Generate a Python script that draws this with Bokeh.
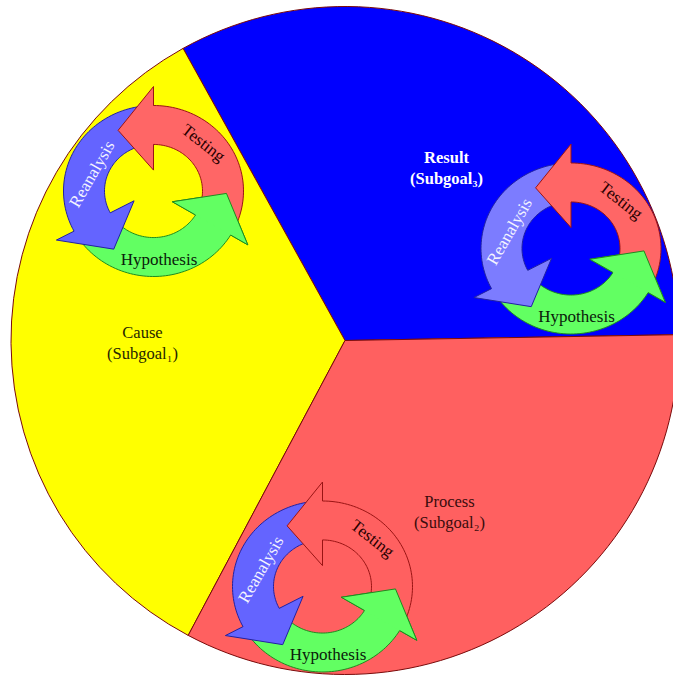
import numpy as np
from bokeh.plotting import figure
from bokeh.models import Range1d, ColumnDataSource
from bokeh.core.properties import value
from bokeh.embed import file_html
from bokeh.resources import INLINE

# ---------------- data ----------------
slice_names = ["Result", "Cause", "Process"]
slice_subgoals = ["(Subgoal\u2083)", "(Subgoal\u2081)", "(Subgoal\u2082)"]
slice_degrees = [118, 123, 119]          # angular share of each slice
slice_colors = ["#0000FF", "#FFFF00", "#FF6060"]
slice_text_colors = ["#FFFFFF", "#262600", "#3a0c0c"]
slice_bold = [True, False, False]
first_slice_start = 1.0                  # degrees

cycle_steps = ["Testing", "Reanalysis", "Hypothesis"]
step_text_colors = ["#2a0000", "#F4F4FF", "#0a200a"]

# ---------------- layout ----------------
PW, PH = 673, 678           # reference picture size
W, H = 673, 678             # figure size
def Y(py):                  # picture y (down) -> data y (up)
    return PH - py

pie_cx, pie_cy, pie_r = 344.5, 340.0, 334.0
label_pos = [(446, 157), (142, 332), (449, 501)]
line_gap = 20.5

cycles = [
    dict(cx=153.0, cy=190.5, red="#FF6666", blue="#6464FF", green="#62FF62"),
    dict(cx=570.5, cy=248.0, red="#FF6666", blue="#7C7CFF", green="#62FF62"),
    dict(cx=322.0, cy=586.0, red="#FF6060", blue="#6464FF", green="#62FF62"),
]
edge = dict(red="#9a1414", blue="#2222a0", green="#1f8a1f")
R_IN, R_OUT, R_HI, R_HO, R_TIP, YS = 49.0, 90.0, 22.0, 110.0, 73.0, 0.95
arrow_angles = dict(red=(-29, 90, 119), blue=(90, 208, 237), green=(208, 329, 358))
text_off = [(50, -48, -38), (-61.5, -17, 60), (5.5, 68, 0)]

p = figure(width=W, height=H, x_range=Range1d(0, PW), y_range=Range1d(0, PH),
           output_backend="svg", toolbar_location=None, min_border=0)
p.axis.visible = False
p.grid.visible = False
p.outline_line_color = None
p.background_fill_color = "white"
p.border_fill_color = "white"

# ---- pie ----
cum = np.cumsum([0] + slice_degrees)
starts = np.radians(first_slice_start + cum[:-1])
ends = np.radians(first_slice_start + cum[1:])
pie_src = ColumnDataSource(dict(start=starts, end=ends, color=slice_colors))
p.wedge(x=pie_cx, y=Y(pie_cy), radius=pie_r, start_angle="start", end_angle="end",
        fill_color="color", line_color="#7a0a0a", line_width=1, source=pie_src)

# ---- slice labels ----
for i, (lx, ly) in enumerate(label_pos):
    for j, t in enumerate([slice_names[i], slice_subgoals[i]]):
        p.text(x=[lx], y=[Y(ly + j * line_gap)], text=[t],
               text_font=value("Liberation Serif"), text_font_size="16.5px",
               text_font_style="bold" if slice_bold[i] else "normal",
               text_color=slice_text_colors[i], text_align="center",
               text_baseline="middle")

def pt(cx, cy, r, a):
    ar = np.radians(a)
    return cx + r * np.cos(ar), Y(cy) + YS * r * np.sin(ar)

def arrow_poly(cx, cy, a0, a1, a2):
    arc = np.linspace(a0, a1, 60)
    ox, oy = pt(cx, cy, R_OUT, arc)
    ix, iy = pt(cx, cy, R_IN, arc[::-1])
    hx, hy = zip(pt(cx, cy, R_HO, a1), pt(cx, cy, R_TIP, a2), pt(cx, cy, R_HI, a1))
    return (list(ox) + list(hx) + list(ix), list(oy) + list(hy) + list(iy))

def head_tri(cx, cy, a1, a2):
    pts = [pt(cx, cy, R_HI, a1), pt(cx, cy, R_TIP, a2), pt(cx, cy, R_HO, a1)]
    return [q[0] for q in pts], [q[1] for q in pts]

def head_outline(cx, cy, a1, a2):
    pts = [pt(cx, cy, R_IN, a1), pt(cx, cy, R_HI, a1), pt(cx, cy, R_TIP, a2),
           pt(cx, cy, R_HO, a1), pt(cx, cy, R_OUT, a1)]
    return [q[0] for q in pts], [q[1] for q in pts]

for c in cycles:
    for key in ["green", "blue", "red"]:
        xs, ys = arrow_poly(c["cx"], c["cy"], *arrow_angles[key])
        p.patch(xs, ys, fill_color=c[key], line_color=edge[key], line_width=1)
    g0, g1, g2 = arrow_angles["green"]
    tx, ty = head_tri(c["cx"], c["cy"], g1, g2)
    p.patch(tx, ty, fill_color=c["green"], line_color=None)
    lx, ly = head_outline(c["cx"], c["cy"], g1, g2)
    p.line(lx, ly, line_color=edge["green"], line_width=1)
    for k, step in enumerate(cycle_steps):
        dx, dy, ang = text_off[k]
        p.text(x=[c["cx"] + dx], y=[Y(c["cy"] + dy)], text=[step], angle=np.radians(ang),
               text_font=value("Liberation Serif"),
               text_font_size="17px", text_color=step_text_colors[k],
               text_align="center", text_baseline="middle")

open("out.html", "w").write(file_html(p, INLINE))
